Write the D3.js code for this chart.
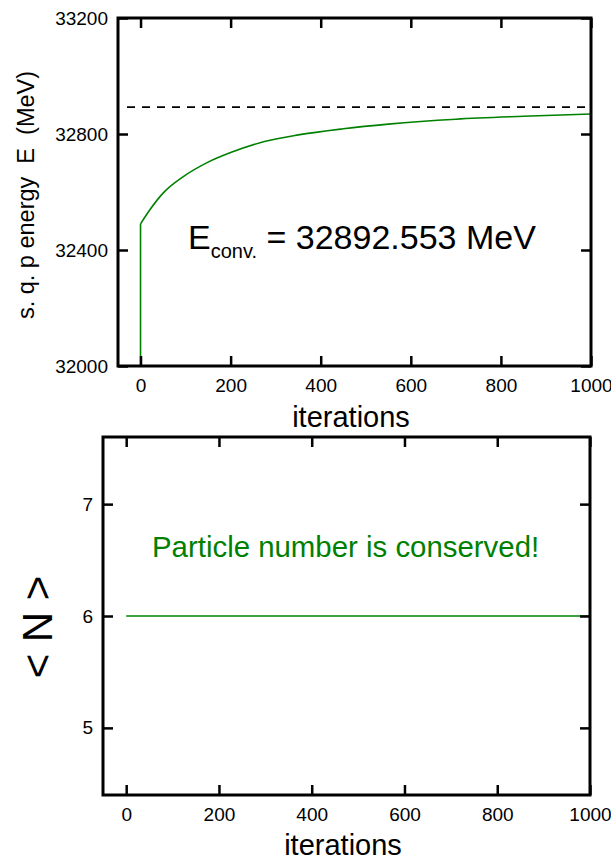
<!DOCTYPE html>
<html>
<head>
<meta charset="utf-8">
<script src="https://cdn.jsdelivr.net/npm/d3@7"></script>
<style>
  body { margin: 0; background: #fff; }
  svg { display: block; font-family: "Liberation Sans", Arial, sans-serif; }
  .tick line { stroke: #000; stroke-width: 2.5; }
  .tick text { font-size: 19px; fill: #000; }
</style>
</head>
<body>
<svg id="chart" width="611" height="859"></svg>
<script>
// iterations vs. single quasi-particle energy
const iterations = [0, 20, 50, 95, 150, 200, 275, 350, 450, 550, 700, 850, 1000];
const energy = [32490, 32537, 32596, 32653, 32703, 32736, 32774, 32797, 32818, 32834, 32851, 32861, 32869];
// jump at the first iteration
const jumpIter = [0, 0];
const jumpEnergy = [32000, 32490];
const eConv = 32892.553;
const eConvRange = [-30, 1000];

// particle number
const nIter = [0, 1000];
const particleNumber = [6, 6];

const xTicks = [0, 200, 400, 600, 800, 1000];
const eTicks = [32000, 32400, 32800, 33200];
const nTicks = [5, 6, 7];

const green = "#008000";
const svg = d3.select("#chart");

// ---- top panel
const pTop = { left: 118, right: 591, top: 18, bottom: 366 };
const x1 = d3.scaleLinear().domain([-50, 1000]).range([pTop.left, pTop.right]);
const y1 = d3.scaleLinear().domain([32000, 33200]).range([pTop.bottom, pTop.top]);

// ---- bottom panel
const pBot = { left: 103, right: 590, top: 437, bottom: 795 };
const x2 = d3.scaleLinear().domain([-50, 1000]).range([pBot.left, pBot.right]);
const y2 = d3.scaleLinear().domain([4.4, 7.6]).range([pBot.bottom, pBot.top]);

function frame(p, x, y, yTicks) {
  const g = svg.append("g");
  g.append("g")
    .attr("transform", `translate(0,${p.bottom})`)
    .call(d3.axisBottom(x).tickValues(xTicks).tickSize(-10).tickPadding(12.5).tickFormat(d3.format("d")));
  g.append("g")
    .attr("transform", `translate(0,${p.top})`)
    .call(d3.axisTop(x).tickValues(xTicks).tickSize(-10).tickFormat(""));
  g.append("g")
    .attr("transform", `translate(${p.left},0)`)
    .call(d3.axisLeft(y).tickValues(yTicks).tickSize(-10).tickPadding(10).tickFormat(d3.format("d")));
  g.append("g")
    .attr("transform", `translate(${p.right},0)`)
    .call(d3.axisRight(y).tickValues(yTicks).tickSize(-10).tickFormat(""));
  g.selectAll(".domain").remove();
  g.append("rect")
    .attr("x", p.left).attr("y", p.top)
    .attr("width", p.right - p.left).attr("height", p.bottom - p.top)
    .attr("fill", "none").attr("stroke", "#000").attr("stroke-width", 3);
  return g;
}

// top: converged energy (dashed)
svg.append("line")
  .attr("x1", x1(eConvRange[0])).attr("x2", x1(eConvRange[1]))
  .attr("y1", y1(eConv)).attr("y2", y1(eConv))
  .attr("stroke", "#000").attr("stroke-width", 1.6).attr("stroke-dasharray", "8,7");

svg.append("path")
  .datum(d3.zip(jumpIter, jumpEnergy))
  .attr("fill", "none").attr("stroke", green).attr("stroke-width", 1.6)
  .attr("d", d3.line().x(d => x1(d[0])).y(d => y1(d[1])));

svg.append("path")
  .datum(d3.zip(iterations, energy))
  .attr("fill", "none").attr("stroke", green).attr("stroke-width", 1.6)
  .attr("d", d3.line().curve(d3.curveMonotoneX).x(d => x1(d[0])).y(d => y1(d[1])));

frame(pTop, x1, y1, eTicks);

svg.append("text")
  .attr("x", 351).attr("y", 427)
  .attr("text-anchor", "middle").attr("font-size", 29)
  .text("iterations");

svg.append("text")
  .attr("transform", "translate(34,195) rotate(-90)")
  .attr("text-anchor", "middle").attr("font-size", 23.5)
  .style("white-space", "pre")
  .text("s. q. p energy  E  (MeV)");

const eLabel = svg.append("text")
  .attr("x", 188).attr("y", 249).attr("font-size", 34);
eLabel.append("tspan").text("E");
eLabel.append("tspan").attr("font-size", 20).attr("dy", 9).text("conv.");
eLabel.append("tspan").attr("dy", -9).text(" = " + eConv.toFixed(3) + " MeV");

// bottom: particle number
svg.append("path")
  .datum(d3.zip(nIter, particleNumber))
  .attr("fill", "none").attr("stroke", green).attr("stroke-width", 1.6)
  .attr("d", d3.line().x(d => x2(d[0])).y(d => y2(d[1])));

frame(pBot, x2, y2, nTicks);

svg.append("text")
  .attr("x", 343).attr("y", 855)
  .attr("text-anchor", "middle").attr("font-size", 29)
  .text("iterations");

svg.append("text")
  .attr("transform", "translate(52,627) rotate(-90)")
  .attr("text-anchor", "middle").attr("font-size", 42)
  .style("white-space", "pre")
  .text("< N >");

svg.append("text")
  .attr("x", 152).attr("y", 557).attr("font-size", 29.4)
  .attr("fill", green)
  .text("Particle number is conserved!");
</script>
</body>
</html>
